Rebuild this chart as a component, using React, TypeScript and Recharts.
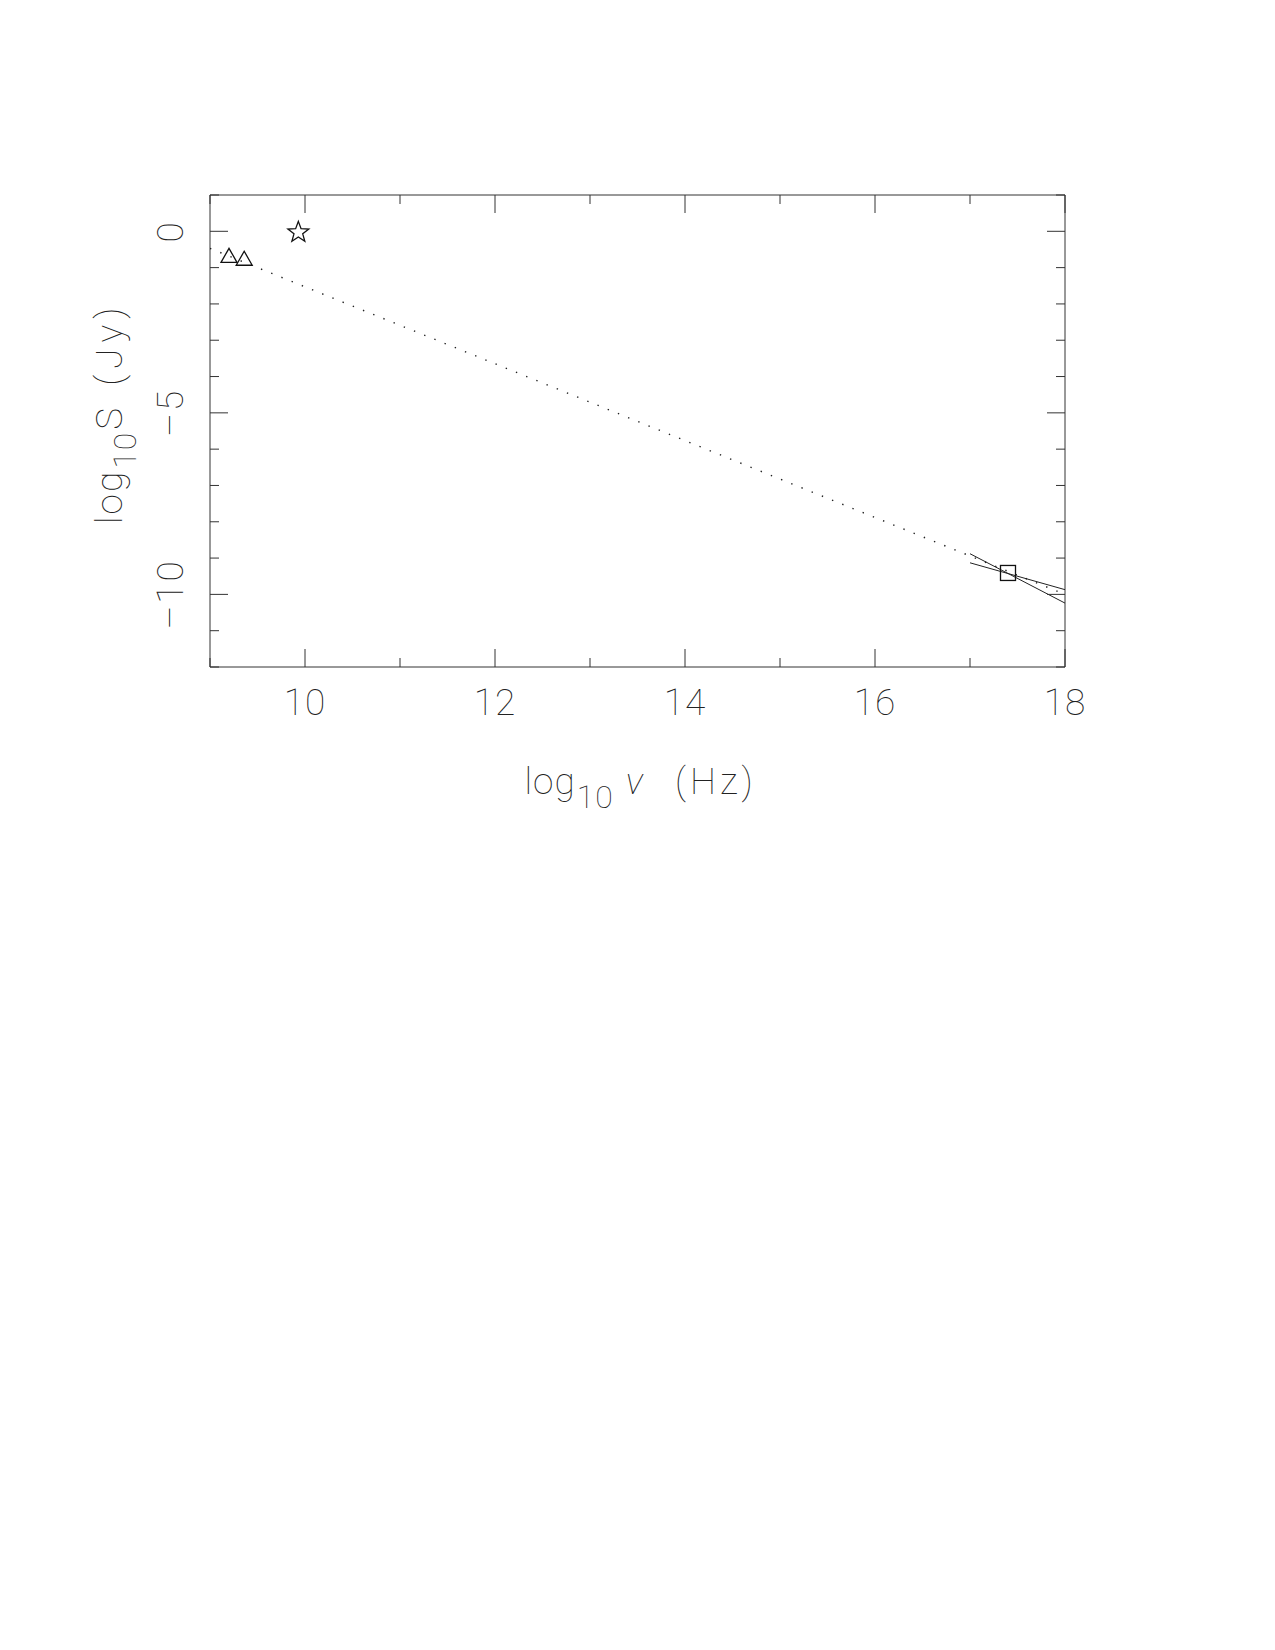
import React from 'react';
import { ComposedChart, Scatter, XAxis, YAxis } from 'recharts';

// axis ticks
const xTicks = [9, 10, 11, 12, 13, 14, 15, 16, 17, 18];
const xLabeled = [10, 12, 14, 16, 18];
const yTicks = [-12, -11, -10, -9, -8, -7, -6, -5, -4, -3, -2, -1, 0, 1];
const yLabeled = [0, -5, -10];

// measurements
const radioPoints = [
  { x: 9.2, y: -0.69 },
  { x: 9.36, y: -0.77 },
];
const starPoints = [{ x: 9.93, y: -0.03 }];
const xrayPoints = [{ x: 17.4, y: -9.41 }];

// lines
const interpLine = [
  { x: 9, y: -0.47 },
  { x: 18, y: -10.0 },
];
const bowSteep = [
  { x: 17.0, y: -8.88 },
  { x: 18, y: -10.24 },
];
const bowFlat = [
  { x: 17.0, y: -9.13 },
  { x: 18, y: -9.87 },
];

const INK = '#333';
const TXT = '#222';
const FONT = 'Roboto, "DejaVu Sans", sans-serif';
const FS = 37;
const W = 100;

const isMajorX = (v: number) => xLabeled.includes(v);
const isMajorY = (v: number) => yLabeled.includes(v);

const BottomTick = (props: any) => {
  const { x, y, payload } = props;
  const len = isMajorX(payload.value) ? 18 : 9;
  return (
    <g>
      <line x1={x} y1={y} x2={x} y2={y - len} stroke={INK} strokeWidth={1} />
      {isMajorX(payload.value) && (
        <text x={x} y={y + 48} textAnchor="middle" fontFamily={FONT} fontWeight={W} fontSize={FS} fill={TXT} letterSpacing={1}>
          {payload.value}
        </text>
      )}
    </g>
  );
};

const TopTick = (props: any) => {
  const { x, y, payload } = props;
  const len = isMajorX(payload.value) ? 18 : 9;
  return <line x1={x} y1={y} x2={x} y2={y + len} stroke={INK} strokeWidth={1} />;
};

const LeftTick = (props: any) => {
  const { x, y, payload } = props;
  const major = isMajorY(payload.value);
  const len = major ? 18 : 9;
  const bx = x - 27;
  return (
    <g>
      <line x1={x} y1={y} x2={x + len} y2={y} stroke={INK} strokeWidth={1} />
      {major && (
        <text
          x={bx}
          y={y}
          transform={`rotate(-90, ${bx}, ${y})`}
          textAnchor="middle"
          fontFamily={FONT}
          fontWeight={W}
          fontSize={FS}
          fill={TXT}
          letterSpacing={2}
        >
          {payload.value === 0 ? '0' : `\u2013${Math.abs(payload.value)}`}
        </text>
      )}
    </g>
  );
};

const RightTick = (props: any) => {
  const { x, y, payload } = props;
  const len = isMajorY(payload.value) ? 18 : 9;
  return <line x1={x} y1={y} x2={x - len} y2={y} stroke={INK} strokeWidth={1} />;
};

const Triangle = (props: any) => {
  const { cx, cy } = props;
  return (
    <polygon
      points={`${cx},${cy - 8} ${cx - 8},${cy + 6} ${cx + 8},${cy + 6}`}
      fill="none"
      stroke="#111"
      strokeWidth={1.3}
    />
  );
};

const Star = (props: any) => {
  const { cx, cy } = props;
  const pts: string[] = [];
  for (let i = 0; i < 10; i++) {
    const r = i % 2 === 0 ? 11 : 4.6;
    const a = -Math.PI / 2 + (i * Math.PI) / 5;
    pts.push(`${cx + r * Math.cos(a)},${cy + r * Math.sin(a)}`);
  }
  return <polygon points={pts.join(' ')} fill="none" stroke="#111" strokeWidth={1.3} />;
};

const Square = (props: any) => {
  const { cx, cy } = props;
  return <rect x={cx - 7.5} y={cy - 7.5} width={15} height={15} fill="none" stroke="#111" strokeWidth={1.3} />;
};

const NoShape = () => <g />;

const XTitle = (props: any) => {
  const { viewBox } = props;
  const sx = viewBox.x + viewBox.width / 2 - 113;
  const by = viewBox.y + 127;
  return (
    <text x={sx} y={by} textAnchor="start" fontFamily={FONT} fontWeight={W} fontSize={FS} fill={TXT}>
      <tspan letterSpacing={1}>log</tspan>
      <tspan fontSize={32} dy={14} dx={1} letterSpacing={1}>10</tspan>
      <tspan dy={-14} dx={12} fontStyle="italic">ν</tspan>
      <tspan dx={32} letterSpacing={4}>(Hz)</tspan>
    </text>
  );
};

const YTitle = (props: any) => {
  const { viewBox } = props;
  const bx = 122;
  const sy = viewBox.y + viewBox.height / 2 + 93;
  return (
    <text
      x={bx}
      y={sy}
      transform={`rotate(-90, ${bx}, ${sy})`}
      textAnchor="start"
      fontFamily={FONT}
      fontWeight={W}
      fontSize={FS}
      fill={TXT}
    >
      <tspan letterSpacing={2}>log</tspan>
      <tspan fontSize={32} dy={14} dx={1} letterSpacing={1}>10</tspan>
      <tspan dy={-14} dx={2}>S</tspan>
      <tspan dx={22} letterSpacing={6}>(Jy)</tspan>
    </text>
  );
};

export default function App() {
  return (
    <div style={{ position: 'absolute', left: 0, top: 0, width: 1275, height: 1650, background: '#fff' }}>
      <ComposedChart width={1275} height={900} margin={{ top: 194, right: 209, bottom: 0, left: 0 }}>
        <XAxis
          xAxisId="b"
          dataKey="x"
          type="number"
          domain={[9, 18]}
          ticks={xTicks}
          allowDataOverflow
          orientation="bottom"
          height={233}
          tickSize={0}
          tickMargin={0}
          axisLine={{ stroke: INK, strokeWidth: 1 }}
          tick={<BottomTick />}
          interval={0}
          label={<XTitle />}
        />
        <XAxis
          xAxisId="t"
          dataKey="x"
          type="number"
          domain={[9, 18]}
          ticks={xTicks}
          allowDataOverflow
          orientation="top"
          height={1}
          tickSize={0}
          tickMargin={0}
          axisLine={{ stroke: INK, strokeWidth: 1 }}
          tick={<TopTick />}
          interval={0}
        />
        <YAxis
          yAxisId="l"
          dataKey="y"
          type="number"
          domain={[-12, 1]}
          ticks={yTicks}
          allowDataOverflow
          orientation="left"
          width={210}
          tickSize={0}
          tickMargin={0}
          axisLine={{ stroke: INK, strokeWidth: 1 }}
          tick={<LeftTick />}
          interval={0}
          label={<YTitle />}
        />
        <YAxis
          yAxisId="r"
          dataKey="y"
          type="number"
          domain={[-12, 1]}
          ticks={yTicks}
          allowDataOverflow
          orientation="right"
          width={1}
          tickSize={0}
          tickMargin={0}
          axisLine={{ stroke: INK, strokeWidth: 1 }}
          tick={<RightTick />}
          interval={0}
        />
        <Scatter
          xAxisId="b"
          yAxisId="l"
          data={interpLine}
          line={{ stroke: '#222', strokeWidth: 1.4, strokeDasharray: '1.4 9.6' }}
          shape={<NoShape />}
          isAnimationActive={false}
        />
        <Scatter
          xAxisId="b"
          yAxisId="l"
          data={bowSteep}
          line={{ stroke: '#222', strokeWidth: 1 }}
          shape={<NoShape />}
          isAnimationActive={false}
        />
        <Scatter
          xAxisId="b"
          yAxisId="l"
          data={bowFlat}
          line={{ stroke: '#222', strokeWidth: 1 }}
          shape={<NoShape />}
          isAnimationActive={false}
        />
        <Scatter xAxisId="b" yAxisId="l" data={radioPoints} shape={<Triangle />} isAnimationActive={false} />
        <Scatter xAxisId="b" yAxisId="l" data={starPoints} shape={<Star />} isAnimationActive={false} />
        <Scatter xAxisId="b" yAxisId="l" data={xrayPoints} shape={<Square />} isAnimationActive={false} />
      </ComposedChart>
    </div>
  );
}
